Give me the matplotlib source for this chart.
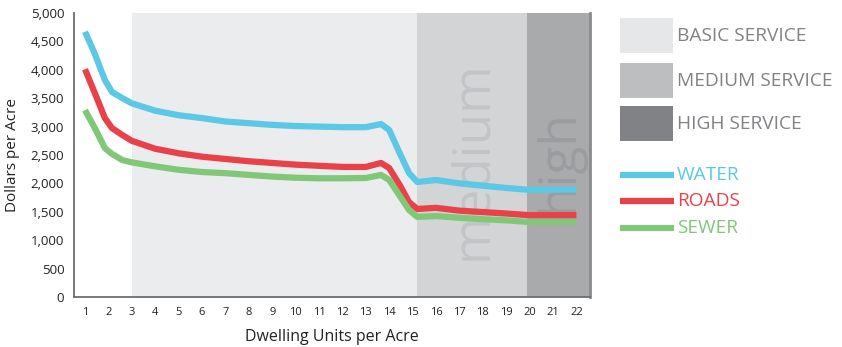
import matplotlib
matplotlib.use("Agg")
import matplotlib.pyplot as plt
from matplotlib.patches import Rectangle
from matplotlib.lines import Line2D

plt.rcParams['font.family'] = ['Open Sans', 'DejaVu Sans']

# values
units = [1, 1.4, 1.85, 2.15, 2.6, 3, 4, 5, 6, 7, 8, 9, 10, 11, 12, 13, 13.65, 14,
         14.45, 14.85, 15.2, 16, 17, 18, 19, 20, 21, 22]
water = [4670, 4300, 3820, 3610, 3500, 3410, 3280, 3200, 3150, 3090, 3060, 3030,
         3010, 3000, 2990, 2990, 3045, 2940, 2530, 2180, 2025, 2060, 2000, 1960,
         1920, 1885, 1890, 1890]
roads = [4010, 3610, 3150, 2975, 2850, 2750, 2610, 2530, 2470, 2430, 2390, 2360,
         2330, 2310, 2290, 2290, 2360, 2270, 1970, 1670, 1550, 1570, 1520, 1495,
         1470, 1440, 1440, 1440]
sewer = [3290, 2990, 2620, 2520, 2410, 2370, 2300, 2240, 2200, 2180, 2150, 2120,
         2100, 2090, 2090, 2095, 2150, 2060, 1780, 1530, 1410, 1425, 1395, 1370,
         1350, 1320, 1320, 1320]

zone_edges = [3, 15.2, 19.9, 22.6]
zone_colors = ["#ebecee", "#d3d4d6", "#a9aaac"]
zone_words = ["", "medium", "high"]
zone_word_colors = ["", "#c3c4c7", "#9b9c9f"]

legend_zones = ["BASIC SERVICE", "MEDIUM SERVICE", "HIGH SERVICE"]
legend_zone_colors = ["#e6e7e8", "#bcbec0", "#808285"]
series_names = ["WATER", "ROADS", "SEWER"]
series_colors = ["#5bc8e6", "#e8414a", "#80c878"]

fig = plt.figure(figsize=(8.42, 3.47), dpi=100)
ax = fig.add_axes([74/842, 1-297/347, (590-74)/842, (297-13)/347])

for i in range(3):
    ax.axvspan(zone_edges[i], zone_edges[i+1], color=zone_colors[i], lw=0, zorder=0)
    if zone_words[i]:
        xc = (zone_edges[i] + zone_edges[i+1]) / 2
        ax.text(xc, 2400, zone_words[i], rotation=90, ha="center", va="center",
                fontsize=37, color=zone_word_colors[i], zorder=1)

for vals, c in zip([water, roads, sewer], series_colors):
    ax.plot(units, vals, color=c, lw=4.5, solid_capstyle="butt",
            solid_joinstyle="round", zorder=3)

ax.set_xlim(0.53, 22.58)
ax.set_ylim(0, 5000)
ax.set_xticks(range(1, 23))
ax.set_yticks(range(0, 5001, 500))
ax.set_yticklabels(["{:,}".format(v) for v in range(0, 5001, 500)])
ax.tick_params(axis="x", length=0, labelsize=8, pad=7, colors="#222222")
ax.tick_params(axis="y", length=0, labelsize=9.5, pad=7, colors="#222222")
ax.spines["top"].set_visible(False)
ax.spines["left"].set_color("#6d6e71")
ax.spines["bottom"].set_color("#6d6e71")
ax.spines["left"].set_linewidth(1.3)
ax.spines["bottom"].set_linewidth(1.3)
ax.spines["right"].set_color("#8a8b8d")
ax.spines["right"].set_linewidth(2)
ax.set_xlabel("Dwelling Units per Acre", fontsize=11.5, color="#222222", labelpad=8)
ax.set_ylabel("Dollars per Acre", fontsize=11, color="#222222", labelpad=8)

# legend on the right
W, H = 842, 347
box_tops = [18, 63, 106]
for top, c, name in zip(box_tops, legend_zone_colors, legend_zones):
    fig.patches.append(Rectangle((620/W, 1-(top+35)/H), 53/W, 35/H,
                                 transform=fig.transFigure, color=c, lw=0))
    fig.text(677/W, 1-(top+18)/H, name, fontsize=13.8, color="#808285",
             va="center", ha="left")
line_ys = [175, 201, 228]
for y, c, name in zip(line_ys, series_colors, series_names):
    fig.lines.append(Line2D([620/W, 674/W], [1-y/H, 1-y/H], transform=fig.transFigure,
                            color=c, lw=4.5, solid_capstyle="butt"))
    fig.text(677/W, 1-y/H, name, fontsize=13.8, color=c, va="center", ha="left")

fig.savefig("out.png", dpi=100)
